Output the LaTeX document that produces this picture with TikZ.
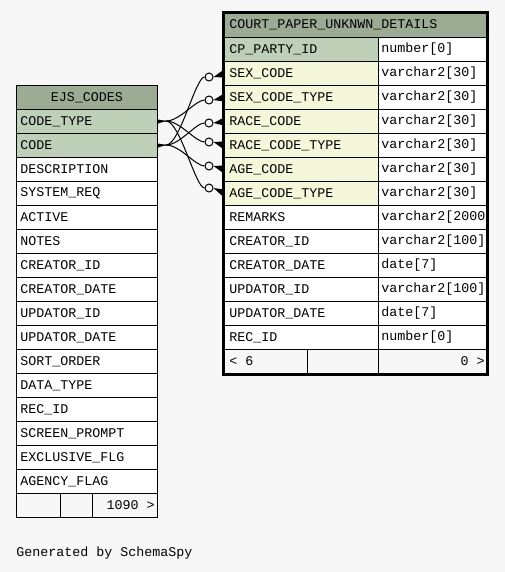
\documentclass[tikz,border=0pt]{standalone}
\usepackage{fontspec}
\setmonofont{Liberation Mono}
\definecolor{bg}{HTML}{F7F7F7}
\definecolor{hdr}{HTML}{9CAB94}
\definecolor{keyc}{HTML}{BED1B8}
\definecolor{fkc}{HTML}{F4F7DA}
\tikzset{
  cellbox/.style={draw=black, line width=0.75pt, inner sep=0pt, anchor=north west, minimum height=18pt},
  ctext/.style={inner sep=0pt, anchor=west},
  odot/.style={circle, draw=black, fill=bg, line width=0.75pt, minimum size=6pt, inner sep=0pt},
  edge/.style={draw=black, line width=0.75pt},
}
\newcommand{\mkcell}[7]{%
  \node[cellbox, fill=#5, minimum width=#4*0.75pt] (#1) at (#2,#3) {};
  \node[ctext] (#1-t) at ([xshift=#7*0.75pt]#1.west) {#6};}
\begin{document}
\begin{tikzpicture}[x=0.75pt,y=-0.75pt, font=\ttfamily\fontsize{10pt}{12pt}\selectfont]
\fill[bg] (0,0) rectangle (505,572);
\useasboundingbox (0,0) rectangle (505,572);

% ---------- EJS_CODES ----------
\node[cellbox, fill=hdr, minimum width=141*0.75pt] (lh) at (16,85) {EJS\_CODES};
\mkcell{ct}{16}{109}{141}{keyc}{CODE\_TYPE}{4}
\mkcell{cd}{16}{133}{141}{keyc}{CODE}{4}
\foreach \n [count=\i] in {DESCRIPTION,SYSTEM\_REQ,ACTIVE,NOTES,CREATOR\_ID,CREATOR\_DATE,UPDATOR\_ID,UPDATOR\_DATE,SORT\_ORDER,DATA\_TYPE,REC\_ID,SCREEN\_PROMPT,EXCLUSIVE\_FLG,AGENCY\_FLAG}{
  \mkcell{l\i}{16}{133+24*\i}{141}{white}{\n}{4}
}
\node[cellbox, fill=bg, minimum width=44*0.75pt] (g1) at (16,493) {};
\node[cellbox, fill=bg, minimum width=32*0.75pt] (g2) at (60,493) {};
\node[cellbox, fill=bg, minimum width=65*0.75pt] (g3) at (92,493) {};
\node[ctext, anchor=east] (g3-t) at ([xshift=-3*0.75pt]g3.east) {1090 >};

% ---------- COURT_PAPER_UNKNWN_DETAILS ----------
\node[cellbox, fill=hdr, minimum width=263*0.75pt, minimum height=25*0.75pt] (rh) at (224,12) {};
\node[ctext] (rh-t) at ([xshift=5*0.75pt]rh.west) {COURT\_PAPER\_UNKNWN\_DETAILS};
\foreach \n/\f/\t [count=\i] in {
  {CP\_PARTY\_ID}/keyc/{number[0]},
  {SEX\_CODE}/fkc/{varchar2[30]},
  {SEX\_CODE\_TYPE}/fkc/{varchar2[30]},
  {RACE\_CODE}/fkc/{varchar2[30]},
  {RACE\_CODE\_TYPE}/fkc/{varchar2[30]},
  {AGE\_CODE}/fkc/{varchar2[30]},
  {AGE\_CODE\_TYPE}/fkc/{varchar2[30]},
  {REMARKS}/white/{varchar2[2000},
  {CREATOR\_ID}/white/{varchar2[100]},
  {CREATOR\_DATE}/white/{date[7]},
  {UPDATOR\_ID}/white/{varchar2[100]},
  {UPDATOR\_DATE}/white/{date[7]},
  {REC\_ID}/white/{number[0]}}{
  \mkcell{r\i}{224}{13+24*\i}{154}{\f}{\n}{5}
  \mkcell{t\i}{378}{13+24*\i}{109}{white}{\t}{3}
}
\node[cellbox, fill=bg, minimum width=83*0.75pt] (f1) at (224,349) {};
\node[cellbox, fill=bg, minimum width=71*0.75pt] (f2) at (307,349) {};
\node[cellbox, fill=bg, minimum width=109*0.75pt] (f3) at (378,349) {};
\node[ctext] (f1-t) at ([xshift=5*0.75pt]f1.west) {< 6};
\node[ctext, anchor=east] (f3-t) at ([xshift=-3*0.75pt]f3.east) {0 >};
\draw[line width=2.25pt] (223.5,12) rectangle (487,374);

% ---------- relationships ----------
\coordinate (jct) at (166,121);
\coordinate (jcd) at (166,145);
\node[odot] (o2) at (209,77) {};
\node[odot] (o3) at (209,100) {};
\node[odot] (o4) at (209,123) {};
\node[odot] (o5) at (209,142) {};
\node[odot] (o6) at (209,166) {};
\node[odot] (o7) at (209,188) {};
\draw[edge] (ct.east) -- (jct);
\draw[edge] (cd.east) -- (jcd);
\foreach \o/\s in {2/jcd,3/jct,4/jcd,5/jct,6/jcd,7/jct}{
  \draw[edge] (\s) .. controls +(14,0) and +(-9,0) .. (o\o.west);
  \fill[black] (o\o.east) -- ([yshift=3pt]r\o.west) -- ([yshift=-3pt]r\o.west) -- cycle;
}
\fill[black] (jct) -- ([yshift=1.5pt]ct.east) -- ([yshift=-1.5pt]ct.east) -- cycle;
\fill[black] (jcd) -- ([yshift=1.5pt]cd.east) -- ([yshift=-1.5pt]cd.east) -- cycle;

\node[ctext] (gen) at (16,553) {Generated by SchemaSpy};
\end{tikzpicture}
\end{document}
